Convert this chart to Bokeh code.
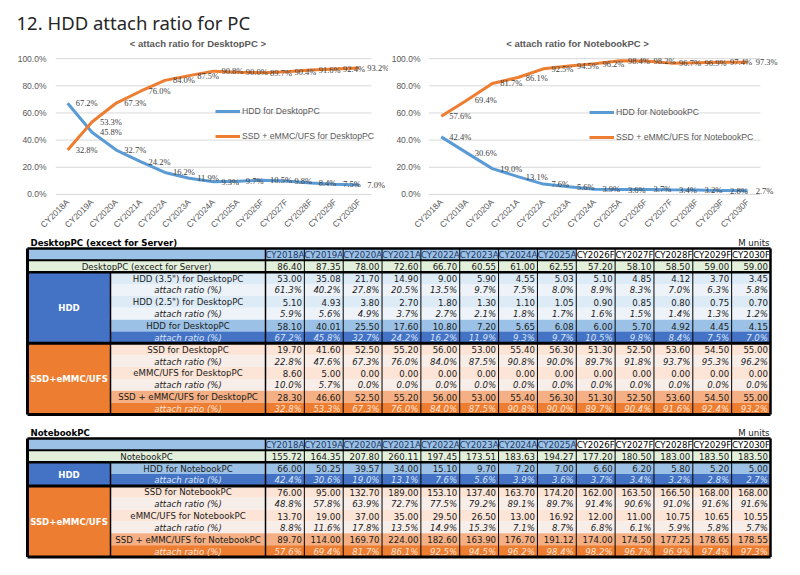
import math
from bokeh.plotting import figure
from bokeh.models import (Range1d, FixedTicker, NumeralTickFormatter,
                          LabelSet, Legend, LegendItem, ColumnDataSource)
from bokeh.layouts import column, row
from bokeh.core.properties import value
from bokeh.embed import file_html
from bokeh.resources import INLINE

# ---------------- data ----------------
years = ["CY2018A", "CY2019A", "CY2020A", "CY2021A", "CY2022A", "CY2023A", "CY2024A",
         "CY2025A", "CY2026F", "CY2027F", "CY2028F", "CY2029F", "CY2030F"]

# DesktopPC (M units, attach ratio %)
desk_total = [86.40, 87.35, 78.00, 72.60, 66.70, 60.55, 61.00, 62.55, 57.20, 58.10, 58.50, 59.00, 59.00]
desk_hdd35 = [53.00, 35.08, 21.70, 14.90, 9.00, 5.90, 4.55, 5.03, 5.10, 4.85, 4.12, 3.70, 3.45]
desk_hdd35_r = [61.3, 40.2, 27.8, 20.5, 13.5, 9.7, 7.5, 8.0, 8.9, 8.3, 7.0, 6.3, 5.8]
desk_hdd25 = [5.10, 4.93, 3.80, 2.70, 1.80, 1.30, 1.10, 1.05, 0.90, 0.85, 0.80, 0.75, 0.70]
desk_hdd25_r = [5.9, 5.6, 4.9, 3.7, 2.7, 2.1, 1.8, 1.7, 1.6, 1.5, 1.4, 1.3, 1.2]
desk_hdd = [58.10, 40.01, 25.50, 17.60, 10.80, 7.20, 5.65, 6.08, 6.00, 5.70, 4.92, 4.45, 4.15]
desk_hdd_r = [67.2, 45.8, 32.7, 24.2, 16.2, 11.9, 9.3, 9.7, 10.5, 9.8, 8.4, 7.5, 7.0]
desk_ssd = [19.70, 41.60, 52.50, 55.20, 56.00, 53.00, 55.40, 56.30, 51.30, 52.50, 53.60, 54.50, 55.00]
desk_ssd_r = [22.8, 47.6, 67.3, 76.0, 84.0, 87.5, 90.8, 90.0, 89.7, 91.8, 93.7, 95.3, 96.2]
desk_emmc = [8.60, 5.00, 0.00, 0.00, 0.00, 0.00, 0.00, 0.00, 0.00, 0.00, 0.00, 0.00, 0.00]
desk_emmc_r = [10.0, 5.7, 0.0, 0.0, 0.0, 0.0, 0.0, 0.0, 0.0, 0.0, 0.0, 0.0, 0.0]
desk_flash = [28.30, 46.60, 52.50, 55.20, 56.00, 53.00, 55.40, 56.30, 51.30, 52.50, 53.60, 54.50, 55.00]
desk_flash_r = [32.8, 53.3, 67.3, 76.0, 84.0, 87.5, 90.8, 90.0, 89.7, 90.4, 91.6, 92.4, 93.2]

# NotebookPC (M units, attach ratio %)
nb_total = [155.72, 164.35, 207.80, 260.11, 197.45, 173.51, 183.63, 194.27, 177.20, 180.50, 183.00, 183.50, 183.50]
nb_hdd = [66.00, 50.25, 39.57, 34.00, 15.10, 9.70, 7.20, 7.00, 6.60, 6.20, 5.80, 5.20, 5.00]
nb_hdd_r = [42.4, 30.6, 19.0, 13.1, 7.6, 5.6, 3.9, 3.6, 3.7, 3.4, 3.2, 2.8, 2.7]
nb_ssd = [76.00, 95.00, 132.70, 189.00, 153.10, 137.40, 163.70, 174.20, 162.00, 163.50, 166.50, 168.00, 168.00]
nb_ssd_r = [48.8, 57.8, 63.9, 72.7, 77.5, 79.2, 89.1, 89.7, 91.4, 90.6, 91.0, 91.6, 91.6]
nb_emmc = [13.70, 19.00, 37.00, 35.00, 29.50, 26.50, 13.00, 16.92, 12.00, 11.00, 10.75, 10.65, 10.55]
nb_emmc_r = [8.8, 11.6, 17.8, 13.5, 14.9, 15.3, 7.1, 8.7, 6.8, 6.1, 5.9, 5.8, 5.7]
nb_flash = [89.70, 114.00, 169.70, 224.00, 182.60, 163.90, 176.70, 191.12, 174.00, 174.50, 177.25, 178.65, 178.55]
nb_flash_r = [57.6, 69.4, 81.7, 86.1, 92.5, 94.5, 96.2, 98.4, 98.2, 96.7, 96.9, 97.4, 97.3]

y_ticks = [0.0, 0.2, 0.4, 0.6, 0.8, 1.0]

title_text = "12. HDD attach ratio for PC"
subtitles = ["< attach ratio for DesktopPC >", "< attach ratio for NotebookPC >"]

# ---------------- styles ----------------
CHART_FONT = "Liberation Sans"
TABLE_FONT = "DejaVu Sans"
HDD_COLOR = "#5B9BD5"
FLASH_COLOR = "#ED7D31"
GRAY = "#595959"
PAGE_W = 800

# ---------------- header (title + chart subtitles) ----------------
HEAD_H = 48
fh = figure(width=PAGE_W, height=HEAD_H, x_range=Range1d(0, PAGE_W),
            y_range=Range1d(HEAD_H, 0), x_axis_type=None, y_axis_type=None,
            min_border=0, output_backend="svg", toolbar_location=None)
fh.outline_line_color = None
fh.xgrid.visible = False
fh.ygrid.visible = False
fh.text(x=[16], y=[22], text=[title_text], text_align="left", text_baseline="middle",
        text_font=value("Noto Sans"), text_font_size="18.5px", text_color="#262626")
fh.text(x=[197.4, 577], y=[43, 43], text=subtitles, text_align="center",
        text_baseline="middle", text_font=value(CHART_FONT), text_font_size="9.5px",
        text_font_style="bold", text_color=GRAY)

# ---------------- charts ----------------
Y0, Y1 = -0.03, 1.06
CH, CTOP, CBOT = 188, 2, 36


def pct(v):
    return f"{v:.1f}%"


def make_chart(width, bl, x_end, hdd_r, flash_r, hdd_name, flash_name,
               leg_x, leg_y, ystandoff):
    n = len(years)
    pos = [i + 0.5 for i in range(n)]
    p = figure(width=width, height=CH, x_range=Range1d(0, x_end),
               y_range=Range1d(Y0, Y1), min_border_left=bl, min_border_right=0,
               min_border_top=CTOP, min_border_bottom=CBOT,
               output_backend="svg", toolbar_location=None)
    p.outline_line_color = None
    p.xgrid.grid_line_color = None
    p.ygrid.grid_line_color = None
    # horizontal gridlines across the category span only
    p.segment(x0=[0] * len(y_ticks), x1=[n] * len(y_ticks), y0=y_ticks, y1=y_ticks,
              line_color="#D9D9D9", line_width=1)
    p.yaxis.ticker = FixedTicker(ticks=y_ticks)
    p.yaxis.formatter = NumeralTickFormatter(format="0.0%")
    p.xaxis.ticker = FixedTicker(ticks=pos)
    p.xaxis.major_label_overrides = {pv: y for pv, y in zip(pos, years)}
    for ax in (p.xaxis, p.yaxis):
        ax.axis_line_color = None
        ax.major_tick_line_color = None
        ax.minor_tick_line_color = None
        ax.major_tick_out = 0
        ax.major_tick_in = 0
        ax.major_label_text_font = CHART_FONT
        ax.major_label_text_font_size = "8.5px"
        ax.major_label_text_color = GRAY
    p.xaxis.major_label_orientation = math.pi / 4
    p.xaxis.major_label_standoff = 2
    p.yaxis.major_label_standoff = ystandoff

    src = ColumnDataSource(dict(
        pos=pos,
        hdd=[v / 100 for v in hdd_r],
        flash=[v / 100 for v in flash_r],
        hdd_lab=[pct(v) for v in hdd_r],
        flash_lab=[pct(v) for v in flash_r],
    ))
    r_h = p.line("pos", "hdd", source=src, line_color=HDD_COLOR, line_width=3)
    r_f = p.line("pos", "flash", source=src, line_color=FLASH_COLOR, line_width=3)

    for ycol, tcol in (("hdd", "hdd_lab"), ("flash", "flash_lab")):
        p.add_layout(LabelSet(x="pos", y=ycol, text=tcol, source=src, x_offset=8,
                              text_baseline="middle", text_align="left",
                              text_font=CHART_FONT, text_font_size="8.5px",
                              text_color="#404040"))

    legend = Legend(items=[LegendItem(label=hdd_name, renderers=[r_h]),
                           LegendItem(label=flash_name, renderers=[r_f])],
                    location=(leg_x, leg_y), orientation="vertical",
                    background_fill_alpha=0, border_line_color=None,
                    label_text_font=CHART_FONT, label_text_font_size="8.7px",
                    label_text_color=GRAY, glyph_width=25, glyph_height=20,
                    label_height=20, spacing=5, padding=0, margin=0, label_standoff=2)
    p.add_layout(legend)
    return p


fig_l = make_chart(388, 55, 13.7, desk_hdd_r, desk_flash_r,
                   "HDD for DesktopPC", "SSD + eMMC/UFS for DesktopPC", 160, 52, 9)
fig_r = make_chart(412, 38, 14.57, nb_hdd_r, nb_flash_r,
                   "HDD for NotebookPC", "SSD + eMMC/UFS for NotebookPC", 161, 51, 8)

# ---------------- tables ----------------
T_TOP, T_BOT = HEAD_H + CH, 575
ft = figure(width=PAGE_W, height=T_BOT - T_TOP, x_range=Range1d(0, PAGE_W),
            y_range=Range1d(T_BOT, T_TOP), x_axis_type=None, y_axis_type=None,
            min_border=0, output_backend="svg", toolbar_location=None)
ft.outline_line_color = None
ft.xgrid.visible = False
ft.ygrid.visible = False

X0, X1, X2, XR = 27.0, 110.0, 265.0, 770.0
CW = (XR - X2) / len(years)
RH = 11.857
FS = "8.6px"
INK = "#1a1a1a"

STYLES = {
    "total": dict(fill="#E2EFDA", color=INK, italic=False),
    "hsub": dict(fill="#DDEBF7", color=INK, italic=False),
    "hsubr": dict(fill="#EEF3F9", color=INK, italic=True),
    "htot": dict(fill="#9BC2E6", color=INK, italic=False),
    "htotr": dict(fill="#4472C4", color="#D9E6F6", italic=True),
    "ssub": dict(fill="#FCE4D6", color=INK, italic=False),
    "ssubr": dict(fill="#F8EEE9", color=INK, italic=True),
    "stot": dict(fill="#F4B084", color=INK, italic=False),
    "stotr": dict(fill="#ED7D31", color="#FCE4D6", italic=True),
}
HEAD_FILL = "#9BC2E6"


def draw_table(p, top, section, rows, groups):
    n = len(rows) + 1
    bottom = top + n * RH
    quads = dict(left=[], right=[], top=[], bottom=[], color=[])

    def q(l, r, t, b, c):
        quads["left"].append(l); quads["right"].append(r)
        quads["top"].append(t); quads["bottom"].append(b); quads["color"].append(c)

    q(X0, X2, top, top + RH, HEAD_FILL)
    for i, y in enumerate(years):
        q(X2 + i * CW, X2 + (i + 1) * CW, top, top + RH,
          HEAD_FILL if y.endswith("A") else "#FFFFFF")
    for k, (label, vals, st) in enumerate(rows):
        t = top + (k + 1) * RH
        q(X0 if st == "total" else X1, XR, t, t + RH, STYLES[st]["fill"])
    for name, r0, r1, fill in groups:
        q(X0, X1, top + (r0 + 1) * RH, top + (r1 + 2) * RH, fill)
    p.quad(left="left", right="right", top="top", bottom="bottom", fill_color="color",
           line_color=None, source=ColumnDataSource(quads))

    def seg(x0, y0, x1, y1, w):
        p.segment(x0=[x0], y0=[y0], x1=[x1], y1=[y1], line_color="black", line_width=w)

    for i in range(1, len(years)):
        seg(X2 + i * CW, top, X2 + i * CW, bottom, 1)
    seg(X2, top, X2, bottom, 1.5)
    g_top = top + (groups[0][1] + 1) * RH
    seg(X1, g_top, X1, bottom, 1.5)
    seg(X0, top + RH, XR, top + RH, 2)
    seg(X0, top + 2 * RH, XR, top + 2 * RH, 2.5)
    for name, r0, r1, fill in groups:
        yb = top + (r1 + 2) * RH
        seg(X0, yb, XR, yb, 3)
    seg(X0, top, XR, top, 2.5)
    seg(X0, top, X0, bottom, 3)
    seg(XR, top, XR, bottom, 2.5)

    def txt(xs, ys, ts, align="center", style="normal", color=INK, size=FS):
        p.text(x=xs, y=ys, text=ts, text_align=align, text_baseline="middle",
               text_font=value(TABLE_FONT), text_font_size=size,
               text_font_style=style, text_color=color)

    hy = top + RH / 2 + 0.5
    a_idx = [i for i, y in enumerate(years) if y.endswith("A")]
    f_idx = [i for i, y in enumerate(years) if y.endswith("F")]
    txt([X2 + (i + 0.5) * CW for i in a_idx], [hy] * len(a_idx),
        [years[i] for i in a_idx], color="#1F3864")
    txt([X2 + (i + 0.5) * CW for i in f_idx], [hy] * len(f_idx),
        [years[i] for i in f_idx], color="#000000")

    for k, (label, vals, st) in enumerate(rows):
        s = STYLES[st]
        yc = top + (k + 1.5) * RH + 0.5
        style = "italic" if s["italic"] else "normal"
        lx = (X0 + X2) / 2 if st == "total" else (X1 + X2) / 2
        txt([lx], [yc], [label], style=style, color=s["color"])
        texts = [pct(v) for v in vals] if s["italic"] else [f"{v:.2f}" for v in vals]
        txt([X2 + (i + 1) * CW - 2.5 for i in range(len(vals))], [yc] * len(vals), texts,
            align="right", style=style, color=s["color"])

    for name, r0, r1, fill in groups:
        yc = top + ((r0 + 1) + (r1 + 2)) / 2 * RH + 0.5
        txt([(X0 + X1) / 2], [yc], [name], style="bold", color="#FFFFFF")

    txt([30], [top - 6], [section], align="left", style="bold", color="#000000")
    txt([XR - 1], [top - 6], ["M units"], align="right", color="#1a1a1a")


desk_rows = [
    ("DesktopPC (excect for Server)", desk_total, "total"),
    ('HDD (3.5") for DesktopPC', desk_hdd35, "hsub"),
    ("attach ratio (%)", desk_hdd35_r, "hsubr"),
    ('HDD (2.5") for DesktopPC', desk_hdd25, "hsub"),
    ("attach ratio (%)", desk_hdd25_r, "hsubr"),
    ("HDD for DesktopPC", desk_hdd, "htot"),
    ("attach ratio (%)", desk_hdd_r, "htotr"),
    ("SSD for DesktopPC", desk_ssd, "ssub"),
    ("attach ratio (%)", desk_ssd_r, "ssubr"),
    ("eMMC/UFS for DesktopPC", desk_emmc, "ssub"),
    ("attach ratio (%)", desk_emmc_r, "ssubr"),
    ("SSD + eMMC/UFS for DesktopPC", desk_flash, "stot"),
    ("attach ratio (%)", desk_flash_r, "stotr"),
]
desk_groups = [("HDD", 1, 6, "#4472C4"), ("SSD+eMMC/UFS", 7, 12, "#ED7D31")]

nb_rows = [
    ("NotebookPC", nb_total, "total"),
    ("HDD for NotebookPC", nb_hdd, "htot"),
    ("attach ratio (%)", nb_hdd_r, "htotr"),
    ("SSD for NotebookPC", nb_ssd, "ssub"),
    ("attach ratio (%)", nb_ssd_r, "ssubr"),
    ("eMMC/UFS for NotebookPC", nb_emmc, "ssub"),
    ("attach ratio (%)", nb_emmc_r, "ssubr"),
    ("SSD + eMMC/UFS for NotebookPC", nb_flash, "stot"),
    ("attach ratio (%)", nb_flash_r, "stotr"),
]
nb_groups = [("HDD", 1, 2, "#4472C4"), ("SSD+eMMC/UFS", 3, 8, "#ED7D31")]

draw_table(ft, 248, "DesktopPC (excect for Server)", desk_rows, desk_groups)
draw_table(ft, 438, "NotebookPC", nb_rows, nb_groups)

layout = column(fh, row(fig_l, fig_r), ft)
open("out.html", "w").write(file_html(layout, INLINE))
